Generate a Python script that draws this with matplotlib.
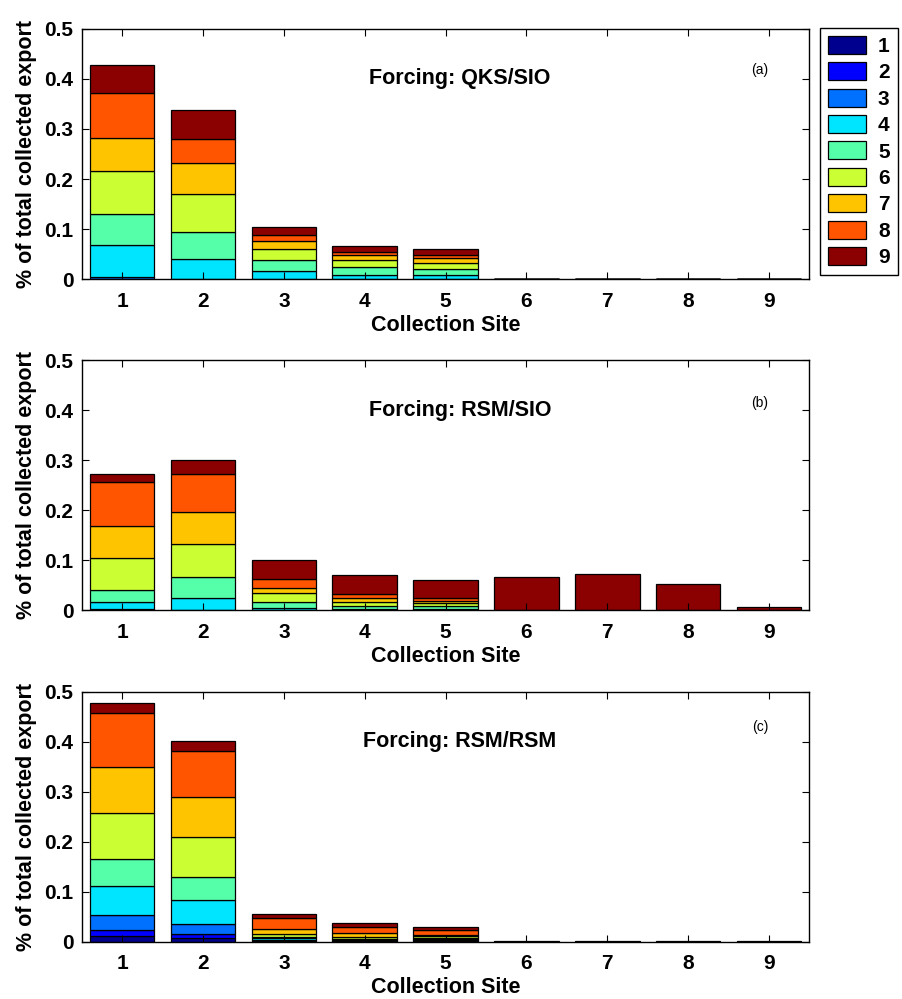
import numpy as np
import matplotlib
matplotlib.use('Agg')
import matplotlib.pyplot as plt
from matplotlib.patches import Patch

plt.rcParams['font.family'] = ['Liberation Sans', 'DejaVu Sans']

# Collection sites on the x axis, source regions 1-9 stacked in each bar
sites = [1, 2, 3, 4, 5, 6, 7, 8, 9]
sources = ['1', '2', '3', '4', '5', '6', '7', '8', '9']
colors = ['#00008F', '#0000FF', '#0070FF', '#00E5FF', '#55FFAA',
          '#CCFF33', '#FFC400', '#FF5500', '#8B0000']

# One row per collection site, one value per source region (1..9)
qks_sio = [
    [0, 0, 0.005, 0.063, 0.063, 0.085, 0.065, 0.090, 0.056],
    [0, 0, 0, 0.040, 0.055, 0.076, 0.060, 0.049, 0.057],
    [0, 0, 0, 0.016, 0.023, 0.022, 0.016, 0.011, 0.017],
    [0, 0, 0, 0.009, 0.016, 0.014, 0.010, 0.006, 0.012],
    [0, 0, 0, 0.009, 0.011, 0.013, 0.010, 0.005, 0.013],
    [0, 0, 0, 0, 0, 0, 0, 0, 0.001],
    [0, 0, 0, 0, 0, 0, 0, 0, 0.001],
    [0, 0, 0, 0, 0, 0, 0, 0, 0.001],
    [0, 0, 0, 0, 0, 0, 0, 0, 0.001],
]

rsm_sio = [
    [0, 0, 0.003, 0.014, 0.024, 0.063, 0.065, 0.088, 0.016],
    [0, 0, 0, 0.025, 0.041, 0.067, 0.063, 0.077, 0.027],
    [0, 0, 0, 0.004, 0.013, 0.017, 0.011, 0.018, 0.038],
    [0, 0, 0, 0.003, 0.006, 0.008, 0.007, 0.009, 0.037],
    [0, 0, 0, 0.003, 0.005, 0.006, 0.005, 0.006, 0.035],
    [0, 0, 0, 0, 0, 0, 0, 0.001, 0.066],
    [0, 0, 0, 0, 0, 0, 0, 0, 0.072],
    [0, 0, 0, 0, 0, 0, 0, 0, 0.052],
    [0, 0, 0, 0, 0, 0, 0, 0, 0.007],
]

rsm_rsm = [
    [0.011, 0.013, 0.029, 0.059, 0.054, 0.091, 0.093, 0.107, 0.021],
    [0.008, 0.007, 0.020, 0.049, 0.045, 0.080, 0.081, 0.092, 0.019],
    [0.001, 0.001, 0.002, 0.003, 0.002, 0.007, 0.010, 0.021, 0.008],
    [0.001, 0.001, 0.001, 0.002, 0.001, 0.004, 0.007, 0.013, 0.007],
    [0.001, 0.001, 0.001, 0.002, 0.002, 0.004, 0.003, 0.010, 0.006],
    [0, 0, 0, 0, 0, 0, 0, 0, 0.001],
    [0, 0, 0, 0, 0, 0, 0, 0, 0.001],
    [0, 0, 0, 0, 0, 0, 0, 0, 0.001],
    [0, 0, 0, 0, 0, 0, 0, 0, 0.001],
]

panels = [
    (qks_sio, 'Forcing: QKS/SIO', '(a)', 0.836),
    (rsm_sio, 'Forcing: RSM/SIO', '(b)', 0.828),
    (rsm_rsm, 'Forcing: RSM/RSM', '(c)', 0.857),
]

fig = plt.figure(figsize=(9.02, 9.99), dpi=100)

# axes boxes in figure fractions: left, bottom, width, height
bottoms = [0.7207, 0.3890, 0.0574]
left, width, height = 0.0906, 0.8067, 0.2503

for (data, title, tag, tag_y), bottom in zip(panels, bottoms):
    ax = fig.add_axes([left, bottom, width, height])
    vals = np.array(data)
    base = np.zeros(len(sites))
    for k in range(len(sources)):
        ax.bar(sites, vals[:, k], 0.8, bottom=base, color=colors[k],
               edgecolor='black', linewidth=0.9)
        base += vals[:, k]

    ax.set_xlim(0.5, 9.5)
    ax.set_ylim(0, 0.5)
    ax.set_xticks(sites)
    ax.set_yticks([0, 0.1, 0.2, 0.3, 0.4, 0.5])
    ax.set_yticklabels(['0', '0.1', '0.2', '0.3', '0.4', '0.5'])
    ax.tick_params(direction='in', length=5, width=0.8, top=True, right=True,
                   labelsize=15, pad=6)
    ax.tick_params(axis='x', pad=9)
    for lab in ax.get_xticklabels() + ax.get_yticklabels():
        lab.set_fontweight('bold')
    for sp in ax.spines.values():
        sp.set_linewidth(1.0)

    ax.set_xlabel('Collection Site', fontsize=15.5, fontweight='bold',
                  labelpad=3)
    ax.set_ylabel('% of total collected export', fontsize=15.5,
                  fontweight='bold', labelpad=5)
    ax.text(0.52, 0.80, title, transform=ax.transAxes, ha='center',
            va='center', fontsize=15.5, fontweight='bold')
    ax.text(0.932, tag_y, tag, transform=ax.transAxes, ha='center',
            va='center', fontsize=10)

handles = [Patch(facecolor=c, edgecolor='black', linewidth=0.9) for c in colors]
leg = fig.legend(handles, sources, loc='upper left',
                 bbox_to_anchor=(820 / 902, 1 - 28 / 999),
                 prop={'size': 15, 'weight': 'bold'},
                 handlelength=1.85, handleheight=0.95, labelspacing=0.3,
                 handletextpad=0.55, borderpad=0.38, borderaxespad=0,
                 fancybox=False, framealpha=1)
leg.get_frame().set_edgecolor('black')
leg.get_frame().set_linewidth(1.0)

fig.savefig('out.png', dpi=100)
